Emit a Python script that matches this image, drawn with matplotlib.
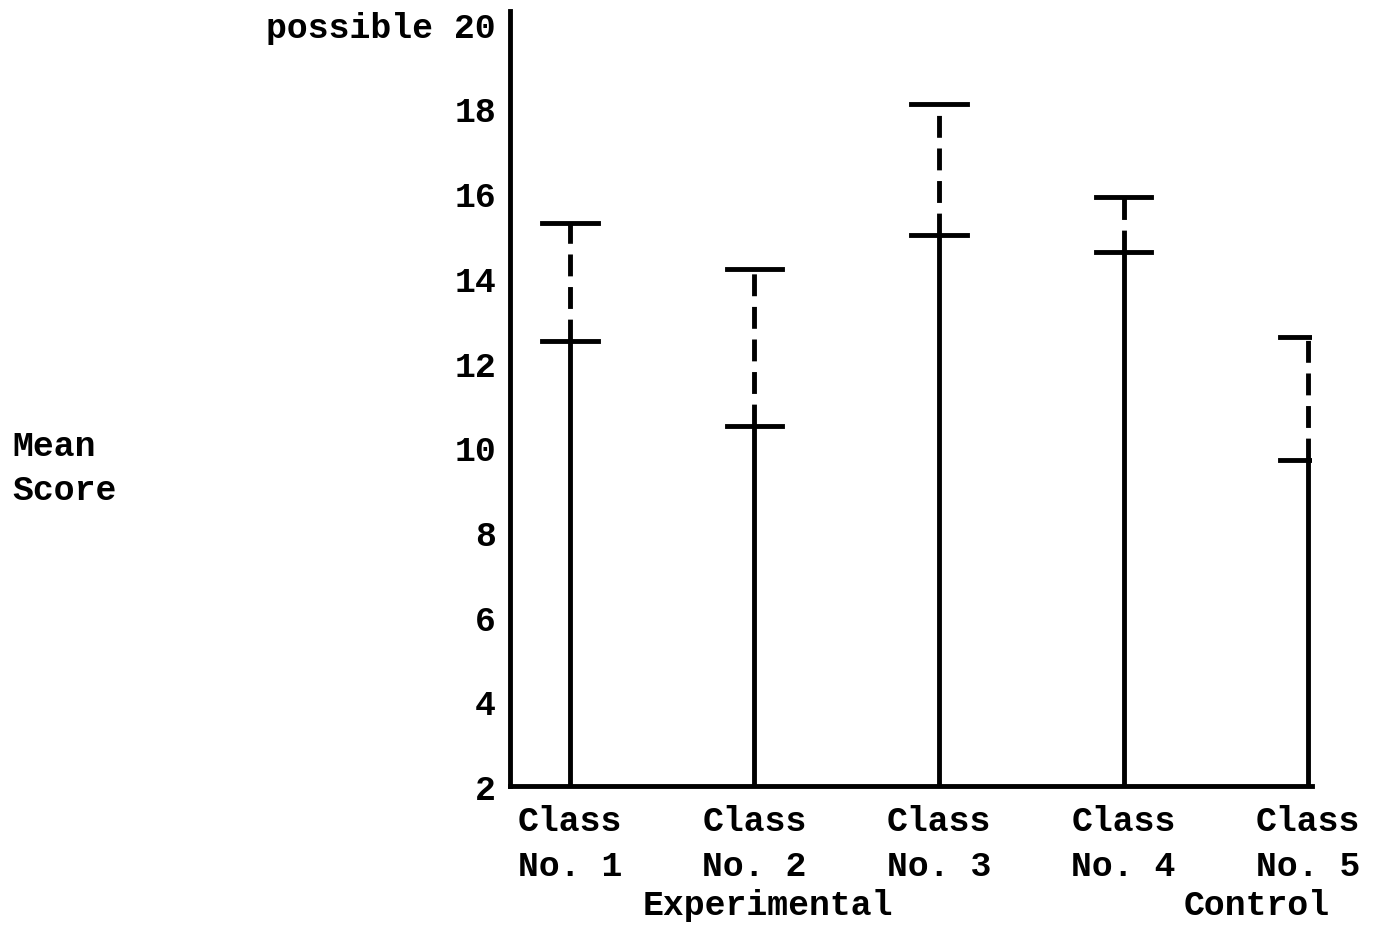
import matplotlib
matplotlib.use("Agg")
import matplotlib.pyplot as plt

classes = ["Class\nNo. 1", "Class\nNo. 2", "Class\nNo. 3", "Class\nNo. 4", "Class\nNo. 5"]
lower_mean = [12.5, 10.5, 15.0, 14.6, 9.7]   # solid part ends here
upper_mean = [15.3, 14.2, 18.1, 15.9, 12.6]  # dashed part ends here
y_ticks = [2, 4, 6, 8, 10, 12, 14, 16, 18, 20]
y_labels = ["2", "4", "6", "8", "10", "12", "14", "16", "18", "possible 20"]

plt.rcParams["font.family"] = ["Liberation Mono", "DejaVu Sans Mono"]
plt.rcParams["font.weight"] = "bold"

fig = plt.figure(figsize=(13.78, 9.28), dpi=100)
ax = fig.add_axes([0.370, 0.152, 0.582, 0.835])

xs = list(range(1, len(classes) + 1))
for x, lo, hi in zip(xs, lower_mean, upper_mean):
    ax.plot([x, x], [2, lo], color="black", lw=3.5, solid_capstyle="butt")
    ax.plot([x, x], [lo, hi], color="black", lw=3.5, dashes=(4.5, 2.2))
    ax.plot([x - 0.15, x + 0.15], [lo, lo], color="black", lw=3.5)
    ax.plot([x - 0.15, x + 0.15], [hi, hi], color="black", lw=3.5)

ax.set_xlim(0.675, 5.02)
ax.set_ylim(2, 20.3)
ax.set_yticks(y_ticks)
ax.set_yticklabels(y_labels, fontsize=25, fontweight="bold")
ax.set_xticks(xs)
ax.set_xticklabels(classes, fontsize=25, fontweight="bold", linespacing=1.45)
ax.tick_params(axis="y", length=0, pad=10)
ax.tick_params(axis="x", length=0, pad=13)
for s in ["top", "right"]:
    ax.spines[s].set_visible(False)
for s in ["left", "bottom"]:
    ax.spines[s].set_linewidth(3.5)

fig.text(0.009, 0.495, "Mean\nScore", fontsize=25, fontweight="bold",
         ha="left", va="center", linespacing=1.45)
fig.text(0.557, 0.024, "Experimental", fontsize=25, fontweight="bold", ha="center", va="center")
fig.text(0.912, 0.024, "Control", fontsize=25, fontweight="bold", ha="center", va="center")

fig.savefig("out.png", dpi=100)
